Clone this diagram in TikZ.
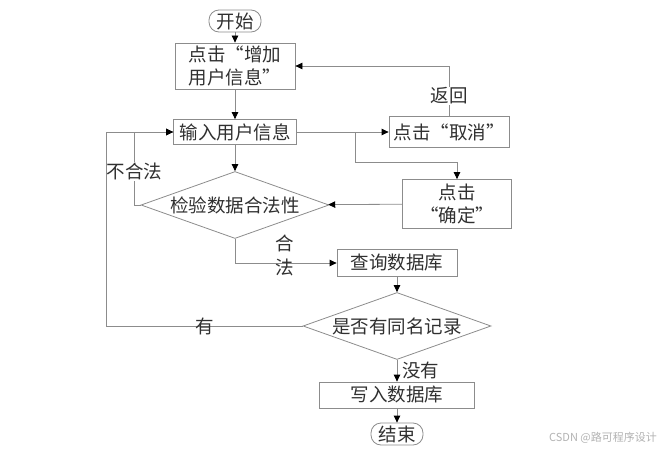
\documentclass[tikz,border=0pt]{standalone}
\usepackage{fontspec}
\setmainfont{Noto Sans CJK SC}
\newfontfamily\fwq[RawFeature=+fwid]{Noto Sans CJK SC}
\newcommand{\oq}{{\fwq “}}
\newcommand{\cq}{{\fwq ”}}
\usetikzlibrary{arrows.meta,shapes.geometric}
\definecolor{linegray}{HTML}{8C8C8C}
\definecolor{txt}{HTML}{303030}

\begin{document}
\begin{tikzpicture}[x=1pt,y=-1pt,font=\fontsize{18.5}{23}\selectfont,line width=0.8pt,
                >={Triangle[length=7pt,width=6.5pt,color=black]},draw=linegray]
                \tikzstyle{box}=[rectangle,draw=linegray,text=txt,inner sep=1pt]
                \tikzstyle{term}=[box,rounded corners=10pt,minimum width=52,minimum height=22]
                \tikzstyle{dec}=[diamond,draw=linegray,text=txt,aspect=2.83,inner sep=0pt,minimum width=188,minimum height=67]
                \tikzstyle{lbl}=[fill=white,text=txt,inner sep=1pt]
                \tikzstyle{lbl2}=[text=txt,inner sep=1pt]

                \useasboundingbox (0,0) rectangle (672,452);

                \node[term]                                             (start)  at (235,21)  {开始};
                \node[box,minimum width=120,minimum height=46,align=left] (add)  at (235,66)  {点击\oq 增加\\用户信息\cq};
                \node[box,minimum width=123,minimum height=25]          (input)  at (235,132) {输入用户信息};
                \node[box,minimum width=120,minimum height=31]          (cancel) at (449,132) {点击\oq 取消\cq};
                \node[box,minimum width=109,minimum height=49,align=center] (ok) at (457,204) {点击\\\oq 确定\cq};
                \node[dec]                                              (check)  at (235,205) {检验数据合法性};
                \node[box,minimum width=120,minimum height=27]          (query)  at (397,263) {查询数据库};
                \node[dec]                                              (dup)    at (397,326) {是否有同名记录};
                \node[box,minimum width=155,minimum height=26]          (write)  at (397,395) {写入数据库};
                \node[term]                                             (end)    at (397,434) {结束};

                \coordinate (fork) at (355,132);
                \coordinate (bend) at (355,162);

                \path[->] (start) edge (add)
                          (add)   edge (input)
                          (input) edge (check)
                          (input) edge (cancel)
                          (ok)    edge (check)
                          (query) edge (dup)
                          (dup)   edge node[lbl2,right,xshift=4pt] (no) {没有} (write)
                          (write) edge (end);

                \draw[->] (fork) -- (bend) -| (ok.north);
                \draw[->] (cancel.north) |- node[lbl,pos=0.2] (back) {返回} (add.east);
                \draw[->] (check.west) -- ++(-6,0) |- node[lbl,pos=0.23] (bad) {不合法} (input.west);
                \draw[->] (dup.west) -- node[lbl2] (yes) {有} ++(-196,0) |- (input.west);
                \draw[->] (check.south) |- (query.west);
                \node[lbl2,align=center,font=\fontsize{18.5}{24}\selectfont] (good) at (285,255) {合\\法};

                \node[text=gray!60,font=\fontsize{11}{13}\selectfont] (mark) at (603,438) {CSDN @路可程序设计};
            \end{tikzpicture}
\end{document}
